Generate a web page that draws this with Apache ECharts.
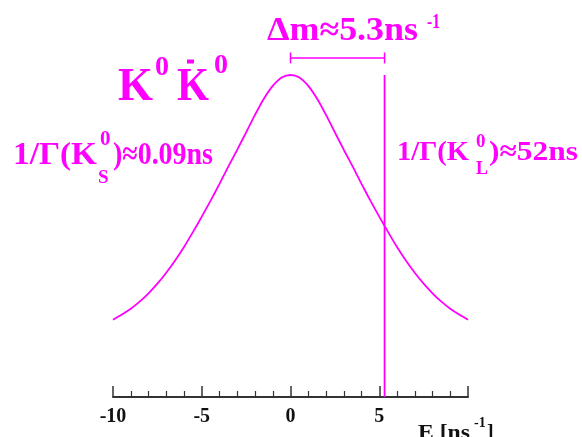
<!DOCTYPE html>
<html>
<head>
<meta charset="utf-8">
<script src="https://cdn.jsdelivr.net/npm/echarts@6/dist/echarts.min.js"></script>
<style>html,body{margin:0;padding:0;background:#fff}#c{width:582px;height:437px}</style>
</head>
<body>
<div id="c"></div>
<script>
// Energy grid (ns^-1) and read-off relative amplitude of the broad K_S peak
var energies = [-10,-9.5,-9,-8.5,-8,-7.5,-7,-6.5,-6,-5.5,-5,-4.5,-4,-3.5,-3,-2.5,-2,-1.5,-1,-0.5,0,
                0.5,1,1.5,2,2.5,3,3.5,4,4.5,5,5.5,6,6.5,7,7.5,8,8.5,9,9.5,10];
var ksAmplitude = [0.240,0.256,0.274,0.296,0.322,0.352,0.386,0.424,0.466,0.512,0.560,0.610,0.662,0.716,0.768,0.822,0.876,0.926,0.966,0.992,1.000,
                   0.992,0.966,0.926,0.876,0.822,0.768,0.716,0.662,0.610,0.560,0.512,0.466,0.424,0.386,0.352,0.322,0.296,0.274,0.256,0.240];
// Narrow K_L peak at Δm
var klPosition = 5.3;
var klHeight = 1.0;
// Δm bracket
var dmFrom = 0, dmTo = 5.3, dmLevel = 1.053, dmCap = 0.017;
var tickLabels = ['-10','-5','0','5',''];

var MAG = '#ff00ff';
var FF = '"Liberation Serif","Times New Roman",serif';
var mctx = document.createElement('canvas').getContext('2d');
function t(text, x, y, size, color) {
  return {type:'text', x:x, y:y, style:{text:text, font:'bold '+size+'px '+FF, fill:color||MAG, align:'left', verticalAlign:'middle'}};
}
function fit(text, x0, x1, y, size, color) {
  var el = t(text, x0, y, size, color);
  mctx.font = 'bold '+size+'px '+FF;
  var w = mctx.measureText(text).width;
  el.scaleX = (x1 - x0) / w;
  return el;
}

var chart = echarts.init(document.getElementById('c'));
var ksData = energies.map(function(e,i){return [e, ksAmplitude[i]];});
chart.setOption({
  animation:false,
  backgroundColor:'#fff',
  grid:{left:113, right:114, top:42.8, bottom:40},
  xAxis:{type:'value', min:-10, max:10, interval:5,
    axisLine:{lineStyle:{color:'#333', width:2}},
    axisTick:{inside:true, length:11, lineStyle:{color:'#333', width:1.5}},
    minorTick:{show:true, splitNumber:5, length:6, lineStyle:{color:'#333', width:1.2}},
    splitLine:{show:false}, minorSplitLine:{show:false},
    axisLabel:{color:'#111', fontWeight:'bold', fontSize:20, fontFamily:FF, margin:10,
      formatter:function(v){ var i=Math.round((v+10)/5); return tickLabels[i]; }}
  },
  yAxis:{type:'value', min:0, max:1.1, show:false},
  series:[
    {type:'line', data:ksData, smooth:0.3, showSymbol:false, lineStyle:{color:MAG, width:1.8}, z:3},
    {type:'line', data:[[klPosition,0],[klPosition,klHeight]], showSymbol:false, lineStyle:{color:MAG, width:1.8}, z:3},
    {type:'line', clip:false, data:[[dmFrom,dmLevel],[dmTo,dmLevel]], showSymbol:false, lineStyle:{color:MAG, width:1.5}},
    {type:'line', clip:false, data:[[dmFrom,dmLevel-dmCap],[dmFrom,dmLevel+dmCap]], showSymbol:false, lineStyle:{color:MAG, width:1.5}},
    {type:'line', clip:false, data:[[dmTo,dmLevel-dmCap],[dmTo,dmLevel+dmCap]], showSymbol:false, lineStyle:{color:MAG, width:1.5}}
  ],
  graphic:[
    fit('K',118,153,88,47), t('0',155,68,28), fit('K',177,209,88,47),
    {type:'rect', shape:{x:187,y:59.5,width:7,height:4}, style:{fill:MAG}},
    t('0',214,66,28),
    fit('\u0394m\u22485.3ns',267,418,31,33), fit('-1',427,440,23,20),
    fit('1/\u0393(K',13,97,156,32), t('0',100,140,21), t('S',98,178,19), fit(')\u22480.09ns',113,213,156,32),
    fit('1/\u0393(K',397,469,152.5,28), t('0',476,142,19), t('L',476,169,18), fit(')\u224852ns',489,578,152.5,28),
    fit('E [ns',418,470,434,20,'#111'), t('-1',474,423,14,'#111'), t(']',487,434,20,'#111')
  ]
});
</script>
</body>
</html>
